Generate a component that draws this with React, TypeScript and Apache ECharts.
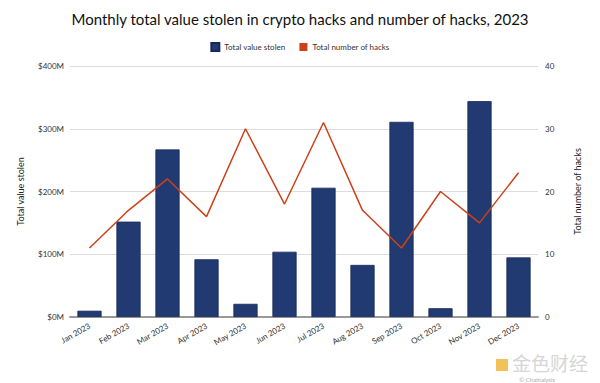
import React, { useEffect, useRef } from "react";
import * as echarts from "echarts";

const months = ["Jan 2023", "Feb 2023", "Mar 2023", "Apr 2023", "May 2023", "Jun 2023", "Jul 2023", "Aug 2023", "Sep 2023", "Oct 2023", "Nov 2023", "Dec 2023"];
const valueStolen = [10, 152, 267, 92, 21, 104, 206, 83, 311, 14, 344, 95];
const numberOfHacks = [11, 17, 22, 16, 30, 18, 31, 17, 11, 20, 15, 23];

const FONT = "Lato, 'Open Sans', sans-serif";

export default function App() {
  const ref = useRef<HTMLDivElement>(null);
  useEffect(() => {
    const chart = echarts.init(ref.current!, null, { renderer: "svg" });
    chart.setOption({
      animation: false,
      backgroundColor: "#fff",
      textStyle: { fontFamily: FONT },
      title: {
        text: "Monthly total value stolen in crypto hacks and number of hacks, 2023",
        left: "center",
        top: 6,
        textStyle: { fontFamily: FONT, fontSize: 15, fontWeight: "normal", color: "#111" },
      },
      legend: {
        top: 37,
        left: "center",
        itemWidth: 8,
        itemHeight: 8,
        itemGap: 14,
        textStyle: { fontFamily: FONT, fontSize: 8, color: "#333" },
        data: [
          { name: "Total value stolen", icon: "rect" },
          { name: "Total number of hacks", icon: "rect", itemStyle: { color: "#cc4119" } },
        ],
      },
      grid: { left: 70, right: 62, top: 66, bottom: 66 },
      xAxis: {
        type: "category",
        data: months,
        axisLine: { lineStyle: { color: "#999", width: 2 } },
        axisTick: { show: false },
        axisLabel: { rotate: 30, fontSize: 8, color: "#333", margin: 8, fontFamily: FONT },
      },
      yAxis: [
        {
          type: "value",
          min: 0,
          max: 400,
          interval: 100,
          name: "Total value stolen",
          nameLocation: "middle",
          nameGap: 45,
          nameTextStyle: { fontSize: 9, color: "#222", fontFamily: FONT },
          axisLabel: { formatter: (v: number) => "$" + v + "M", fontSize: 8, color: "#333", margin: 6 },
          axisLine: { show: false },
          axisTick: { show: false },
          splitLine: { lineStyle: { color: "#dcdcdc", width: 1 } },
        },
        {
          type: "value",
          min: 0,
          max: 40,
          interval: 10,
          name: "Total number of hacks",
          nameLocation: "middle",
          nameGap: 35,
          nameRotate: 90,
          nameTextStyle: { fontSize: 9, color: "#222", fontFamily: FONT },
          axisLabel: { fontSize: 8, color: "#333", margin: 7 },
          axisLine: { show: false },
          axisTick: { show: false },
          splitLine: { show: false },
        },
      ],
      series: [
        {
          name: "Total value stolen",
          type: "bar",
          data: valueStolen,
          barWidth: "62%",
          itemStyle: { color: "#223a72", borderColor: "#16295a", borderWidth: 0.8 },
        },
        {
          name: "Total number of hacks",
          type: "line",
          yAxisIndex: 1,
          data: numberOfHacks,
          symbol: "none",
          lineStyle: { color: "#cc4119", width: 1.5 },
          itemStyle: { color: "#cc4119" },
        },
      ],
      graphic: [
        {
          type: "rect",
          right: 92,
          bottom: 12,
          shape: { width: 12, height: 12 },
          style: { fill: "#f3c257" },
        },
        {
          type: "text",
          right: 12,
          bottom: 11,
          style: { text: "金色财经", fontSize: 19, fill: "#d6d6d6", fontFamily: "'Noto Sans CJK SC'" },
        },
        {
          type: "text",
          right: 45,
          bottom: 1,
          style: { text: "© Chainalysis", fontSize: 6, fill: "#aaa", fontFamily: FONT },
        },
      ],
    });
    return () => chart.dispose();
  }, []);
  return <div ref={ref} style={{ width: 600, height: 383, position: "fixed", left: 0, top: 0 }} />;
}
